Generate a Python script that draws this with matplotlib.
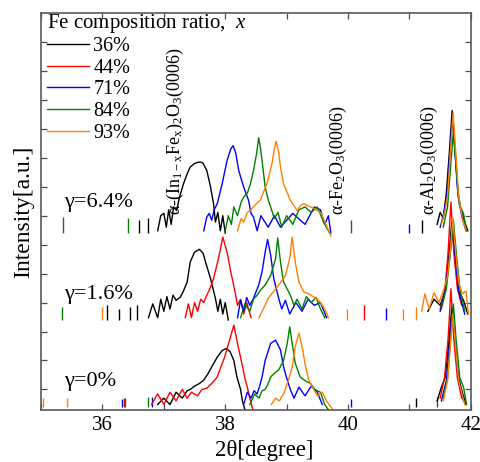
import matplotlib

matplotlib.use("Agg")

import matplotlib.pyplot as plt
import matplotlib.transforms as mtransforms
import numpy as np
from matplotlib.lines import Line2D

plt.rcParams["font.family"] = "serif"
plt.rcParams["font.serif"] = ["Liberation Serif", "DejaVu Serif"]
plt.rcParams["mathtext.fontset"] = "custom"
plt.rcParams["mathtext.rm"] = "Liberation Serif"
plt.rcParams["mathtext.it"] = "Liberation Serif:italic"

compositions = ["36%", "44%", "71%", "84%", "93%"]
colors = ["#000000", "#ff0000", "#0000ff", "#008000", "#ff8000"]
gammas = ["γ=0%", "γ=1.6%", "γ=6.4%"]
offsets = [1.0, 1e3, 1e6]  # vertical stacking of the three scans

# (2theta [deg], counts); film peak then the sapphire peak

# gamma = 0%
g0_36 = [(36.9, 0.3), (37.0, 0.5), (37.1, 0.3), (37.2, 0.8), (37.3, 0.5), (37.38, 0.9),
         (37.43, 1.0), (37.5, 1.3), (37.58, 1.6), (37.65, 2.1), (37.72, 3.5), (37.78, 6),
         (37.87, 13), (37.95, 22), (38.02, 26), (38.08, 20), (38.14, 10), (38.19, 2.7),
         (38.25, 1.0), (38.28, 0.4), (38.32, 0.2),
         (41.45, 0.4), (41.52, 1.2), (41.58, 2.5), (41.64, 40), (41.69, 700), (41.74, 40),
         (41.8, 2.5), (41.86, 0.8), (41.92, 0.3)]
g0_44 = [(36.8, 0.3), (36.9, 0.7), (37.0, 0.3), (37.1, 0.8), (37.2, 0.4), (37.3, 1.0),
         (37.38, 0.5), (37.45, 0.8), (37.55, 0.6), (37.62, 1.0), (37.7, 1.1), (37.78, 1.6),
         (37.87, 2.7), (37.93, 6), (37.99, 13), (38.07, 50), (38.14, 166), (38.2, 39),
         (38.27, 8), (38.33, 2.0), (38.36, 1.2), (38.4, 0.5), (38.45, 0.2),
         (41.5, 0.5), (41.57, 2.5), (41.63, 60), (41.675, 3000), (41.72, 60), (41.78, 2.5),
         (41.85, 0.5)]
g0_71 = [(38.3, 0.3), (38.36, 0.8), (38.42, 0.5), (38.47, 0.9), (38.52, 0.7), (38.56, 1.3),
         (38.6, 2.7), (38.65, 10), (38.74, 39), (38.82, 50), (38.9, 23), (38.95, 6),
         (39.01, 2.1), (39.06, 1.0), (39.12, 0.5), (39.2, 1.2), (39.3, 0.6), (39.4, 1.3),
         (39.5, 0.8), (39.58, 0.3),
         (41.52, 0.4), (41.6, 2), (41.655, 40), (41.7, 600), (41.745, 40), (41.8, 2),
         (41.88, 0.4)]
g0_84 = [(38.4, 0.3), (38.48, 0.7), (38.55, 0.5), (38.6, 0.9), (38.65, 1.0), (38.7, 1.6),
         (38.74, 2.7), (38.8, 3.6), (38.87, 4.7), (38.95, 10), (39.01, 39), (39.05, 145),
         (39.09, 39), (39.14, 8), (39.22, 2.7), (39.3, 2.0), (39.39, 1.6), (39.46, 1.0),
         (39.55, 0.8), (39.62, 0.3), (39.68, 0.2),
         (41.55, 0.5), (41.62, 2.5), (41.67, 50), (41.715, 900), (41.76, 50), (41.82, 2.5),
         (41.88, 1.2), (41.93, 0.3)]
g0_93 = [(38.75, 0.3), (38.82, 0.5), (38.88, 0.4), (38.95, 0.7), (39.03, 2.1), (39.09, 6),
         (39.14, 30), (39.2, 89), (39.25, 30), (39.31, 6), (39.36, 2.1), (39.44, 1.0),
         (39.5, 0.6), (39.58, 0.8), (39.65, 0.4), (39.75, 0.2),
         (41.55, 0.4), (41.62, 2), (41.665, 30), (41.705, 400), (41.75, 30), (41.8, 2),
         (41.9, 0.3)]

# gamma = 1.6%
g16_36 = [(36.75, 0.3), (36.82, 0.9), (36.9, 0.3), (36.95, 1.3), (37.0, 0.5), (37.05, 1.6),
          (37.1, 0.6), (37.15, 1.8), (37.2, 1.2), (37.27, 1.55), (37.32, 2.5), (37.38, 5.1),
          (37.43, 25), (37.5, 55), (37.58, 69), (37.64, 50), (37.68, 25), (37.76, 6.8),
          (37.84, 1.4), (37.88, 0.5), (37.92, 1.3), (37.96, 0.4), (38.0, 1.0), (38.05, 0.25),
          (41.3, 0.5), (41.4, 1.3), (41.5, 0.8), (41.58, 2.5), (41.64, 40), (41.69, 600),
          (41.74, 40), (41.8, 2.5), (41.88, 1.2), (41.95, 0.4)]
g16_44 = [(37.35, 0.3), (37.4, 0.9), (37.45, 0.3), (37.5, 1.0), (37.55, 0.5), (37.6, 1.3),
          (37.65, 1.0), (37.7, 1.8), (37.75, 3), (37.81, 6.8), (37.89, 33), (37.96, 182),
          (38.03, 55), (38.08, 14.8), (38.16, 2.3), (38.2, 0.8), (38.25, 1.3), (38.3, 0.4),
          (38.35, 1.0), (38.42, 0.3),
          (41.5, 0.6), (41.58, 3), (41.63, 60), (41.675, 3000), (41.72, 60), (41.78, 3),
          (41.85, 0.8)]
g16_71 = [(38.2, 0.3), (38.25, 1.2), (38.3, 0.5), (38.35, 1.5), (38.4, 0.8), (38.46, 1.4),
          (38.545, 4), (38.6, 11.5), (38.65, 55), (38.69, 151), (38.74, 43), (38.79, 6.8),
          (38.87, 1.4), (38.92, 0.6), (38.98, 1.2), (39.05, 0.4), (39.15, 1.0), (39.25, 0.5),
          (39.35, 1.3), (39.45, 0.8), (39.55, 1.0), (39.65, 0.3),
          (41.5, 0.5), (41.58, 2.5), (41.655, 40), (41.7, 500), (41.745, 40), (41.8, 2.5),
          (41.9, 0.4)]
g16_84 = [(38.25, 0.3), (38.32, 0.9), (38.4, 0.5), (38.46, 1.3), (38.52, 1.8), (38.58, 2.8),
          (38.65, 4), (38.74, 8.7), (38.82, 33), (38.855, 170), (38.9, 25), (38.95, 5.1),
          (39.06, 1.8), (39.12, 0.8), (39.17, 1.3), (39.25, 0.6), (39.32, 1.6), (39.4, 1.0),
          (39.48, 1.5), (39.55, 0.6), (39.62, 0.3),
          (41.52, 0.6), (41.6, 3), (41.67, 60), (41.715, 700), (41.76, 60), (41.82, 3),
          (41.9, 0.5)]
g16_93 = [(38.55, 0.3), (38.6, 0.5), (38.65, 0.8), (38.7, 1.4), (38.74, 1.8), (38.8, 2.6),
          (38.87, 4), (38.93, 6), (38.98, 8.7), (39.05, 33), (39.09, 182), (39.14, 25),
          (39.2, 5.1), (39.28, 2.3), (39.36, 2.0), (39.44, 1.55), (39.5, 1.3), (39.55, 1.0),
          (39.62, 0.6), (39.68, 0.3),
          (41.2, 0.5), (41.25, 2), (41.32, 0.6), (41.4, 2.2), (41.48, 1.0), (41.55, 2.5),
          (41.62, 8), (41.665, 60), (41.705, 800), (41.75, 60), (41.8, 5), (41.86, 2),
          (41.92, 2.5), (41.96, 0.4)]

# gamma = 6.4% (no 44% film)
g64_36 = [(36.9, 0.3), (36.95, 1.0), (37.0, 1.2), (37.04, 0.4), (37.08, 1.6), (37.12, 0.5),
          (37.16, 2.0), (37.21, 1.5), (37.25, 4), (37.32, 12.6), (37.38, 28), (37.43, 48),
          (37.5, 63), (37.56, 70), (37.6, 71), (37.64, 64), (37.7, 36), (37.76, 10),
          (37.81, 2.6), (37.84, 0.6), (37.88, 1.3), (37.92, 0.3), (37.96, 1.0), (38.0, 0.25),
          (41.45, 0.5), (41.5, 1.3), (41.55, 0.8), (41.6, 6), (41.65, 160), (41.695, 4270),
          (41.745, 160), (41.79, 6), (41.84, 1.5), (41.9, 0.6), (41.95, 0.3)]
g64_71 = [(37.65, 0.3), (37.7, 0.9), (37.74, 1.2), (37.78, 0.7), (37.82, 1.6), (37.87, 2.6),
          (37.95, 12.6), (38.03, 81), (38.09, 200), (38.127, 263), (38.17, 150), (38.22, 36),
          (38.3, 9.8), (38.38, 3.4), (38.42, 1.2), (38.46, 0.9), (38.52, 0.3), (38.58, 1.0),
          (38.7, 0.4), (38.8, 1.0), (38.9, 0.4), (39.1, 1.2), (39.3, 0.5), (39.45, 2.0),
          (39.55, 1.6), (39.62, 0.5), (39.68, 1.0), (39.72, 0.25),
          (41.5, 0.4), (41.56, 1.2), (41.61, 5), (41.655, 120), (41.7, 2500), (41.745, 120),
          (41.79, 5), (41.85, 1.0), (41.92, 0.3)]
g64_84 = [(38.0, 0.3), (38.05, 1.0), (38.1, 0.5), (38.14, 2.0), (38.2, 1.0), (38.26, 3.0),
          (38.3, 4.4), (38.36, 6), (38.41, 12.6), (38.46, 36), (38.51, 138), (38.545, 490),
          (38.57, 250), (38.6, 81), (38.65, 9.8), (38.7, 3.5), (38.74, 2.0), (38.8, 0.8),
          (38.86, 1.3), (38.92, 0.4), (39.0, 1.0), (39.1, 0.5), (39.2, 1.6), (39.3, 2.0),
          (39.4, 1.3), (39.5, 2.0), (39.6, 0.6), (39.7, 0.25),
          (41.55, 0.4), (41.62, 2), (41.67, 50), (41.715, 800), (41.76, 50), (41.81, 2.5),
          (41.88, 1.2), (41.93, 0.3)]
g64_93 = [(38.2, 0.3), (38.26, 0.8), (38.3, 0.6), (38.36, 1.3), (38.41, 1.5), (38.5, 2.5),
          (38.57, 3.4), (38.63, 7), (38.68, 12.6), (38.76, 62), (38.8, 200), (38.83, 372),
          (38.87, 150), (38.9, 48), (38.95, 12.6), (39.06, 3.4), (39.17, 1.5), (39.22, 2.2),
          (39.28, 2.6), (39.34, 2.2), (39.39, 2.0), (39.45, 1.8), (39.5, 1.5), (39.56, 1.2),
          (39.61, 0.7), (39.66, 0.4), (39.72, 0.2),
          (41.52, 0.5), (41.58, 1.5), (41.62, 5), (41.665, 140), (41.71, 3500), (41.755, 140),
          (41.8, 5), (41.86, 0.8), (41.92, 0.3)]

# isolated single-count spikes on the background: (2theta, counts, composition)
spikes_g0 = [(35.04, 0.5, "93%"), (35.42, 0.5, "93%"), (36.32, 0.45, "71%"),
             (36.35, 0.5, "44%"), (36.37, 0.5, "84%"), (36.75, 0.55, "84%"),
             (36.81, 0.55, "71%"), (40.04, 0.45, "71%"), (41.1, 0.5, "36%"),
             (41.45, 0.55, "84%")]
spikes_g16 = [(35.34, 0.7, "84%"), (35.99, 0.7, "93%"), (36.07, 0.8, "36%"),
              (36.27, 0.6, "36%"), (36.45, 0.7, "36%"), (36.56, 0.85, "36%"),
              (39.99, 0.6, "93%"), (40.26, 0.8, "44%"), (40.61, 0.65, "71%"),
              (40.9, 0.6, "93%"), (41.1, 0.7, "93%")]
spikes_g64 = [(35.36, 0.9, "84%"), (36.42, 0.8, "84%"), (36.6, 0.7, "36%"),
              (36.75, 0.8, "36%"), (40.04, 0.7, "84%"), (41.0, 0.5, "71%"),
              (41.2, 0.7, "36%")]

panels = [
    [g0_36, g0_44, g0_71, g0_84, g0_93],
    [g16_36, g16_44, g16_71, g16_84, g16_93],
    [g64_36, None, g64_71, g64_84, g64_93],
]
spikes = [spikes_g0, spikes_g16, spikes_g64]


def draw_scan(ax, points, scale, color):
    tt = np.array([p[0] for p in points])
    cnt = np.array([p[1] for p in points]) * scale
    # split where the scan jumps from the film peak to the substrate peak
    cuts = np.where(np.diff(tt) > 0.5)[0] + 1
    for seg_t, seg_c in zip(np.split(tt, cuts), np.split(cnt, cuts)):
        ax.plot(seg_t, seg_c, color=color, lw=1.0)


fig = plt.figure(figsize=(4.8, 4.62), dpi=100)
ax = fig.add_axes([0.0854, 0.1126, 0.8956, 0.8593])

color_of = dict(zip(compositions, colors))
for scans, spk, scale in zip(panels, spikes, offsets):
    for tt, cnt, comp in spk:
        ax.vlines(tt, 0.25 * scale, cnt * scale, color=color_of[comp], lw=1.0)
    for points, color in zip(scans, colors):
        if points is not None:
            draw_scan(ax, points, scale, color)

ax.set_yscale("log")
ax.set_xlim(35, 42)
ax.set_ylim(10 ** -0.71, 10 ** 13.0)
ax.set_xticks([36, 38, 40, 42])
ax.set_xticks([35, 37, 39, 41], minor=True)
ax.set_yticks([10.0 ** k for k in range(13)])
ax.yaxis.set_minor_locator(matplotlib.ticker.NullLocator())
ax.set_yticklabels([])
ax.tick_params(which="both", direction="in", top=True, right=True, length=4, width=0.9,
               color="0.3", labelsize=15, pad=4)
for sp in ax.spines.values():
    sp.set_color("0.35")
    sp.set_linewidth(1.2)

ax.set_xlabel("2θ[degree]", fontsize=16.5, labelpad=4)
ax.xaxis.set_label_coords(0.52, -0.075)
ax.set_ylabel("Intensity[a.u.]", fontsize=17)
ax.yaxis.set_label_coords(-0.017, 0.5)

xmix = mtransforms.blended_transform_factory(ax.transData, ax.transAxes)
for label, yfrac in zip(gammas, [0.072, 0.29, 0.522]):
    ax.text(35.38, yfrac, label, transform=xmix, fontsize=16, ha="left", va="center")

peak_labels = [
    (37.19, r"α-(In$_{\mathrm{1-x}}$Fe$_{\mathrm{x}}$)$_2$O$_3$(0006)"),
    (39.85, r"α-Fe$_2$O$_3$(0006)"),
    (41.33, r"α-Al$_2$O$_3$(0006)"),
]
for x, label in peak_labels:
    ax.text(x, 0.49, label, transform=xmix, rotation=90, fontsize=13,
            ha="center", va="bottom")

ax.text(0.014, 0.973, "Fe composition ratio,  $x$", transform=ax.transAxes, fontsize=15,
        ha="left", va="center")
handles = [Line2D([], [], color=c, lw=1.0) for c in colors]
ax.legend(handles, compositions, loc="upper left", bbox_to_anchor=(0.0147, 0.94),
          frameon=False, fontsize=14.5, handlelength=2.08, handletextpad=0.2,
          labelspacing=0.134, borderpad=0, borderaxespad=0)

fig.savefig("out.png", dpi=100)
